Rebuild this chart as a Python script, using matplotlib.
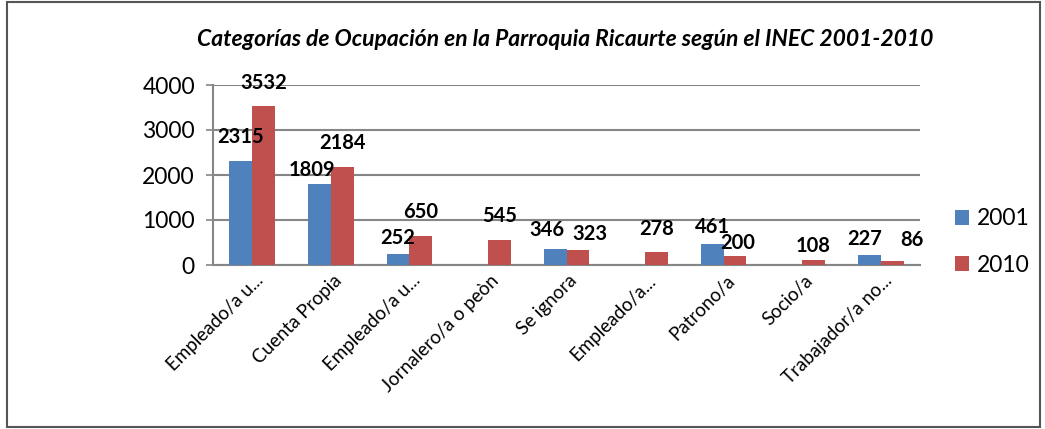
import matplotlib.pyplot as plt
import matplotlib.patches as mpatches
import matplotlib.transforms as mtransforms
import numpy as np

# Chart data
categorias = ['Empleado/a u...', 'Cuenta Propia', 'Empleado/a u...', 'Jornalero/a o peòn',
              'Se ignora', 'Empleado/a...', 'Patrono/a', 'Socio/a', 'Trabajador/a no...']
valores_2001 = [2315, 1809, 252, np.nan, 346, np.nan, 461, np.nan, 227]
valores_2010 = [3532, 2184, 650, 545, 323, 278, 200, 108, 86]
anios = ['2001', '2010']
y_ticks = [0, 1000, 2000, 3000, 4000]

# label nudges in pixels (dx, dy above bar top) to mimic the original placement
nudge_2001 = [(0, 24), (-8, 14), (0, 16), (0, 0), (-8, 19), (0, 0), (0, 17), (0, 0), (-5, 16)]
nudge_2010 = [(0, 23), (0, 24), (0, 24), (0, 24), (12, 16), (0, 23), (3, 13), (0, 14), (20, 21)]

azul = '#4F81BD'
rojo = '#C0504D'
gris = '#868686'

plt.rcParams['font.family'] = ['Lato', 'DejaVu Sans']

fig = plt.figure(figsize=(10.45, 4.29), dpi=100)
ax = fig.add_axes([213 / 1045, 164 / 429, 707 / 1045, 180 / 429])

x = np.arange(len(categorias))
w = 0.29
b1 = ax.bar(x - w / 2, valores_2001, w, color=azul, label=anios[0], zorder=3)
b2 = ax.bar(x + w / 2, valores_2010, w, color=rojo, label=anios[1], zorder=3)

px = 72 / 100  # pixel -> points
for bars, vals, nudges in [(b1, valores_2001, nudge_2001), (b2, valores_2010, nudge_2010)]:
    for rect, v, (dx, dy) in zip(bars, vals, nudges):
        if np.isnan(v):
            continue
        ax.annotate(f'{int(v)}', (rect.get_x() + rect.get_width() / 2, v),
                    xytext=(dx * px, dy * px), textcoords='offset points',
                    ha='center', va='center', fontsize=14.5, fontweight='bold', zorder=4)

ax.set_xlim(-0.5, len(categorias) - 0.5)
ax.set_ylim(0, 4000)
ax.set_yticks(y_ticks)
ax.set_yticklabels([str(t) for t in y_ticks], fontsize=16.5)
ax.set_xticks(x)
ax.set_xticklabels(categorias, rotation=45, ha='right', rotation_mode='anchor', fontsize=13.5)
ax.tick_params(axis='x', length=0, pad=5)
ax.tick_params(axis='y', length=5, color=gris, width=1.2, pad=8)
shift = mtransforms.ScaledTranslation(0.02, 0, fig.dpi_scale_trans)
for lbl in ax.get_xticklabels():
    lbl.set_transform(lbl.get_transform() + shift)

ax.grid(axis='y', color=gris, linewidth=1.5, zorder=0)
for s in ['top', 'right']:
    ax.spines[s].set_visible(False)
for s in ['left', 'bottom']:
    ax.spines[s].set_color(gris)
    ax.spines[s].set_linewidth(1.5)

fig.text(565 / 1045, 389 / 429, 'Categorías de Ocupación en la Parroquia Ricaurte según el INEC 2001-2010',
         ha='center', va='center', fontsize=16.5, fontweight='bold', fontstyle='italic')

fig.legend(handles=[b1, b2], loc='center left', bbox_to_anchor=(955 / 1045, 187 / 429),
           frameon=False, fontsize=16.5, handlelength=0.62, handleheight=0.62,
           handletextpad=0.35, labelspacing=1.1, borderpad=0, borderaxespad=0)

fig.patches.append(mpatches.Rectangle((7 / 1045, 2 / 429), 1033 / 1045, 425 / 429,
                                      transform=fig.transFigure, fill=False,
                                      edgecolor='#555555', linewidth=1.5))

plt.savefig('out.png', dpi=100)
